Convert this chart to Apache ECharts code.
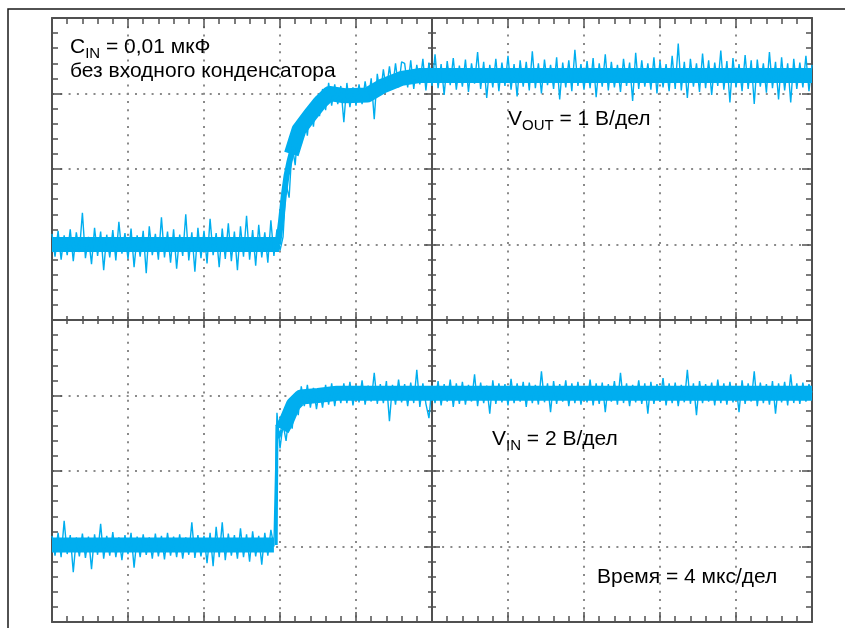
<!DOCTYPE html>
<html>
<head>
<meta charset="utf-8">
<script src="https://cdn.jsdelivr.net/npm/echarts@6/dist/echarts.min.js"></script>
<style>
  html, body { margin: 0; padding: 0; background: #fff; }
  #chart { width: 845px; height: 628px; }
</style>
</head>
<body>
<div id="chart"></div>
<script>
// экран осциллографа: 10 x 8 делений, время в мкс (4 мкс/дел), сигналы в делениях от низа
var sampleStep = 0.16 // мкс между отсчётами
var timeMax = 40
var divMax = 8

// V_OUT (1 В/дел), отсчёты с шумом
var voutBase = [5.14, 4.84, 5.18, 4.80, 5.12, 4.86, 5.20, 4.78, 5.16, 4.90,
  5.42, 4.82, 5.10, 4.74, 5.22, 4.85, 5.17, 4.66, 5.13, 4.83,
  5.19, 4.79, 5.30, 4.88, 5.15, 4.81, 5.21, 4.70, 5.12, 4.84,
  5.18, 4.62, 5.24, 4.86, 5.14, 4.80, 5.36, 4.83, 5.17, 4.76,
  5.20, 4.68, 5.13, 4.85, 5.40, 4.79, 5.16, 4.64, 5.22, 4.82,
  5.18, 4.75, 5.34, 4.86, 5.15, 4.70, 5.21, 4.81, 5.28, 4.78,
  5.17, 4.66, 5.24, 4.84, 5.38, 4.80, 5.19, 4.72, 5.26, 4.83,
  5.16, 4.76, 5.32, 4.85, 5.20, 4.92]
var voutRise = [5.10, 5.80, 5.62, 6.32, 6.05, 6.62, 6.32, 6.74, 6.44, 6.86,
  6.56, 6.96, 6.70, 7.06, 6.78, 7.14, 6.84, 7.12, 6.86, 7.10,
  6.62, 7.14, 6.82, 7.08, 6.84, 7.12, 6.86, 7.16, 6.90, 7.20,
  6.66, 7.26, 6.98, 7.32, 7.04, 7.36, 7.06, 7.40, 7.08, 7.42]
var voutFlat = [7.40, 7.08, 7.44, 7.06, 7.38, 7.12, 7.46, 7.04, 7.41, 7.10,
  7.52, 7.07, 7.39, 6.98, 7.43, 7.11, 7.47, 7.05, 7.37, 7.09,
  7.45, 7.02, 7.40, 7.13, 7.55, 7.06, 7.42, 6.94, 7.38, 7.08,
  7.46, 7.03, 7.41, 7.10, 7.50, 7.05, 7.39, 6.96, 7.44, 7.09,
  7.42, 7.04, 7.56, 7.07, 7.40, 7.00, 7.45, 7.11, 7.38, 7.06,
  7.48, 6.92, 7.41, 7.08, 7.44, 7.03, 7.58, 7.10, 7.39, 7.05,
  7.43, 7.07, 7.47, 6.95, 7.40, 7.09, 7.52, 7.04, 7.42, 7.08,
  7.38, 7.02, 7.46, 7.10, 7.41, 6.90, 7.54, 7.06, 7.44, 7.09,
  7.40, 7.05, 7.48, 7.00, 7.43, 7.08, 7.39, 7.03, 7.50, 7.06,
  7.66, 7.04, 7.42, 6.94, 7.46, 7.09, 7.40, 7.02, 7.53, 7.07,
  7.44, 6.98, 7.41, 7.10, 7.57, 7.05, 7.43, 6.88, 7.47, 7.08,
  7.39, 7.03, 7.51, 7.06, 7.44, 6.86, 7.45, 7.09, 7.40, 7.01,
  7.55, 7.07, 7.42, 6.92, 7.48, 7.04, 7.40, 6.88, 7.46, 7.06,
  7.41, 7.08, 7.50, 7.03, 7.38]
// середина полосы шума V_OUT (null — разрыв на крутом фронте)
var voutCoreTime = [0, 11.95, 12.0, 12.6, 12.8, 13.0, 13.6, 14.1, 14.6, 15.4, 16.6, 17.4, 18.4, 19.4, 40]
var voutCore = [5.0, 5.0, null, 6.2, 6.36, 6.52, 6.72, 6.88, 7.0, 6.97, 6.98, 7.1, 7.2, 7.24, 7.24]
// крутой фронт V_OUT, более узкая полоса
var voutEdgeTime = [11.9, 12.05, 12.2, 12.35, 12.5, 12.65]
var voutEdge = [5.0, 5.3, 5.65, 5.92, 6.1, 6.25]

// V_IN (2 В/дел), отсчёты с шумом
var vinBase = [1.14, 0.88, 1.18, 0.86, 1.34, 0.90, 1.15, 0.66, 1.12, 0.87,
  1.17, 0.85, 1.13, 0.70, 1.16, 0.89, 1.30, 0.84, 1.14, 0.88,
  1.19, 0.86, 1.12, 0.82, 1.15, 0.90, 1.18, 0.72, 1.13, 0.86,
  1.16, 0.89, 1.12, 0.84, 1.17, 0.87, 1.14, 0.83, 1.18, 0.88,
  1.13, 0.86, 1.16, 0.84, 1.12, 0.89, 1.32, 0.85, 1.15, 0.87,
  1.14, 0.78, 1.18, 0.74, 1.26, 0.86, 1.32, 0.82, 1.17, 0.88,
  1.15, 0.84, 1.24, 0.86, 1.16, 0.80, 1.20, 0.87, 1.14, 0.76,
  1.18, 0.88, 1.22, 1.00]
var vinRise = [2.77, 2.30, 2.62, 2.40, 2.76, 2.56, 2.96, 2.74, 3.12, 2.86,
  3.14, 2.84, 3.10, 2.82, 3.08, 2.84, 3.14, 2.88, 3.16, 2.86,
  3.12, 2.90]
var vinFlat = [3.16, 2.90, 3.18, 2.87, 3.14, 2.91, 3.20, 2.88, 3.13, 2.92,
  3.30, 2.89, 3.15, 2.90, 3.19, 2.66, 3.14, 2.88, 3.21, 2.91,
  3.15, 2.86, 3.17, 2.90, 3.34, 2.85, 3.16, 2.89, 2.70, 3.13,
  2.90, 3.19, 2.87, 3.15, 2.92, 3.21, 2.85, 3.16, 2.89, 3.18,
  2.88, 3.14, 2.92, 3.28, 2.86, 3.17, 2.90, 3.13, 2.76, 3.20,
  2.89, 3.16, 2.91, 3.15, 2.87, 3.22, 2.90, 3.16, 2.92, 3.18,
  2.85, 3.17, 2.90, 3.14, 2.88, 3.32, 2.91, 3.16, 2.78, 3.19,
  2.89, 3.15, 2.92, 3.20, 2.86, 3.16, 2.90, 3.18, 2.88, 3.13,
  2.91, 3.21, 2.87, 3.16, 2.89, 3.17, 2.78, 3.15, 2.92, 3.19,
  2.88, 3.30, 2.90, 3.16, 2.86, 3.14, 2.91, 3.20, 2.89, 3.16,
  2.76, 3.18, 2.89, 3.15, 2.92, 3.23, 2.87, 3.16, 2.90, 3.17,
  2.86, 3.14, 2.91, 3.34, 2.89, 3.16, 2.74, 3.19, 2.90, 3.15,
  2.92, 3.17, 2.87, 3.21, 2.90, 3.16, 2.88, 3.18, 2.91, 3.14,
  2.78, 3.20, 2.89, 3.16, 2.92, 3.32, 2.86, 3.17, 2.90, 3.15,
  2.88, 3.19, 2.76, 3.16, 2.91, 3.18, 2.87, 3.28, 2.90, 3.16,
  2.89, 3.17, 2.92, 3.15, 3.04]
// середина полосы шума V_IN
var vinCoreTime = [0, 11.68, 11.72, 12.1, 12.3, 12.7, 13.1, 14.0, 15.0, 40]
var vinCore = [1.02, 1.02, null, 2.55, 2.64, 2.88, 2.98, 3.0, 3.03, 3.03]
// скачок V_IN
var vinEdgeTime = [11.8, 11.84, 11.95, 12.1]
var vinEdge = [1.02, 2.6, 2.45, 2.55]

var vout = voutBase.concat(voutRise, voutFlat)
var vin = vinBase.concat(vinRise, vinFlat)

function toPoints (values) {
  return values.map(function (v, i) { return [i * sampleStep, v] })
}

function pairUp (times, values) {
  return times.map(function (t, i) { return [t, values[i]] })
}

var frameColor = '#505050'
var traceColor = '#00aeef'
var textColor = '#231f20'
var fontName = '"Liberation Sans", Arial, sans-serif'

// одна ось: рамка или центральная линия с делениями
function makeAxis (dim, position, offset, inside, major, minor, grid) {
  var axis = {
    type: 'value',
    min: 0,
    max: dim === 'x' ? timeMax : divMax,
    interval: dim === 'x' ? 4 : 1,
    position: position,
    offset: offset,
    axisLine: { show: true, onZero: false, lineStyle: { color: frameColor, width: 2 } },
    axisTick: { show: true, inside: inside, length: major, lineStyle: { color: frameColor, width: 1.5 } },
    minorTick: { show: true, splitNumber: 5, length: minor, lineStyle: { color: frameColor, width: 1.5 } },
    axisLabel: { show: false },
    splitLine: { show: false },
    minorSplitLine: { show: false }
  }
  if (grid) {
    axis.splitLine = { show: true, lineStyle: { color: '#8a8a8a', width: 2, type: [2, 6.3] } }
  }
  return axis
}

var rich = {
  m: { fontSize: 21, fontFamily: fontName, color: textColor, lineHeight: 28, verticalAlign: 'middle' },
  s: { fontSize: 15, fontFamily: fontName, color: textColor, lineHeight: 15, verticalAlign: 'bottom' }
}

function label (x, y, text) {
  return { type: 'text', left: x, top: y, z: 100, style: { text: text, rich: rich } }
}

function noisy (name, values) {
  return {
    name: name,
    type: 'line',
    data: toPoints(values),
    showSymbol: false,
    sampling: null,
    lineStyle: { color: traceColor, width: 1.4 },
    z: 5
  }
}

// полоса шума: линия заданной толщины по средним значениям
function band (name, times, values, width) {
  return {
    name: name,
    type: 'line',
    data: pairUp(times, values),
    showSymbol: false,
    connectNulls: false,
    lineStyle: { color: traceColor, width: width, cap: 'butt', join: 'round' },
    z: 4
  }
}

var chart = echarts.init(document.getElementById('chart'))
chart.setOption({
  animation: false,
  grid: { left: 52, top: 18, width: 760, height: 604 },
  xAxis: [
    makeAxis('x', 'bottom', 0, true, 10, 6, true),
    makeAxis('x', 'top', 0, true, 10, 6, false),
    makeAxis('x', 'bottom', -302, true, 8, 4, false),
    makeAxis('x', 'bottom', -302, false, 8, 4, false)
  ],
  yAxis: [
    makeAxis('y', 'left', 0, true, 10, 6, true),
    makeAxis('y', 'right', 0, true, 10, 6, false),
    makeAxis('y', 'left', -380, true, 8, 4, false),
    makeAxis('y', 'left', -380, false, 8, 4, false)
  ],
  graphic: [
    { type: 'polyline', z: 100, shape: { points: [[8, 640], [8, 9], [860, 9]] }, style: { stroke: '#1a1a1a', lineWidth: 1.5, fill: null } },
    label(70, 37, '{m|C}{s|IN}{m| = 0,01 мкФ}'),
    label(70, 61, '{m|без входного конденсатора}'),
    label(508, 109, '{m|V}{s|OUT}{m| = 1 В/дел}'),
    label(492, 429, '{m|V}{s|IN}{m| = 2 В/дел}'),
    label(597, 567, '{m|Время = 4 мкс/дел}')
  ],
  series: [
    band('VOUT core', voutCoreTime, voutCore, 15),
    band('VOUT edge', voutEdgeTime, voutEdge, 6),
    noisy('VOUT', vout),
    band('VIN core', vinCoreTime, vinCore, 15),
    band('VIN edge', vinEdgeTime, vinEdge, 3),
    noisy('VIN', vin)
  ]
})
</script>
</body>
</html>
